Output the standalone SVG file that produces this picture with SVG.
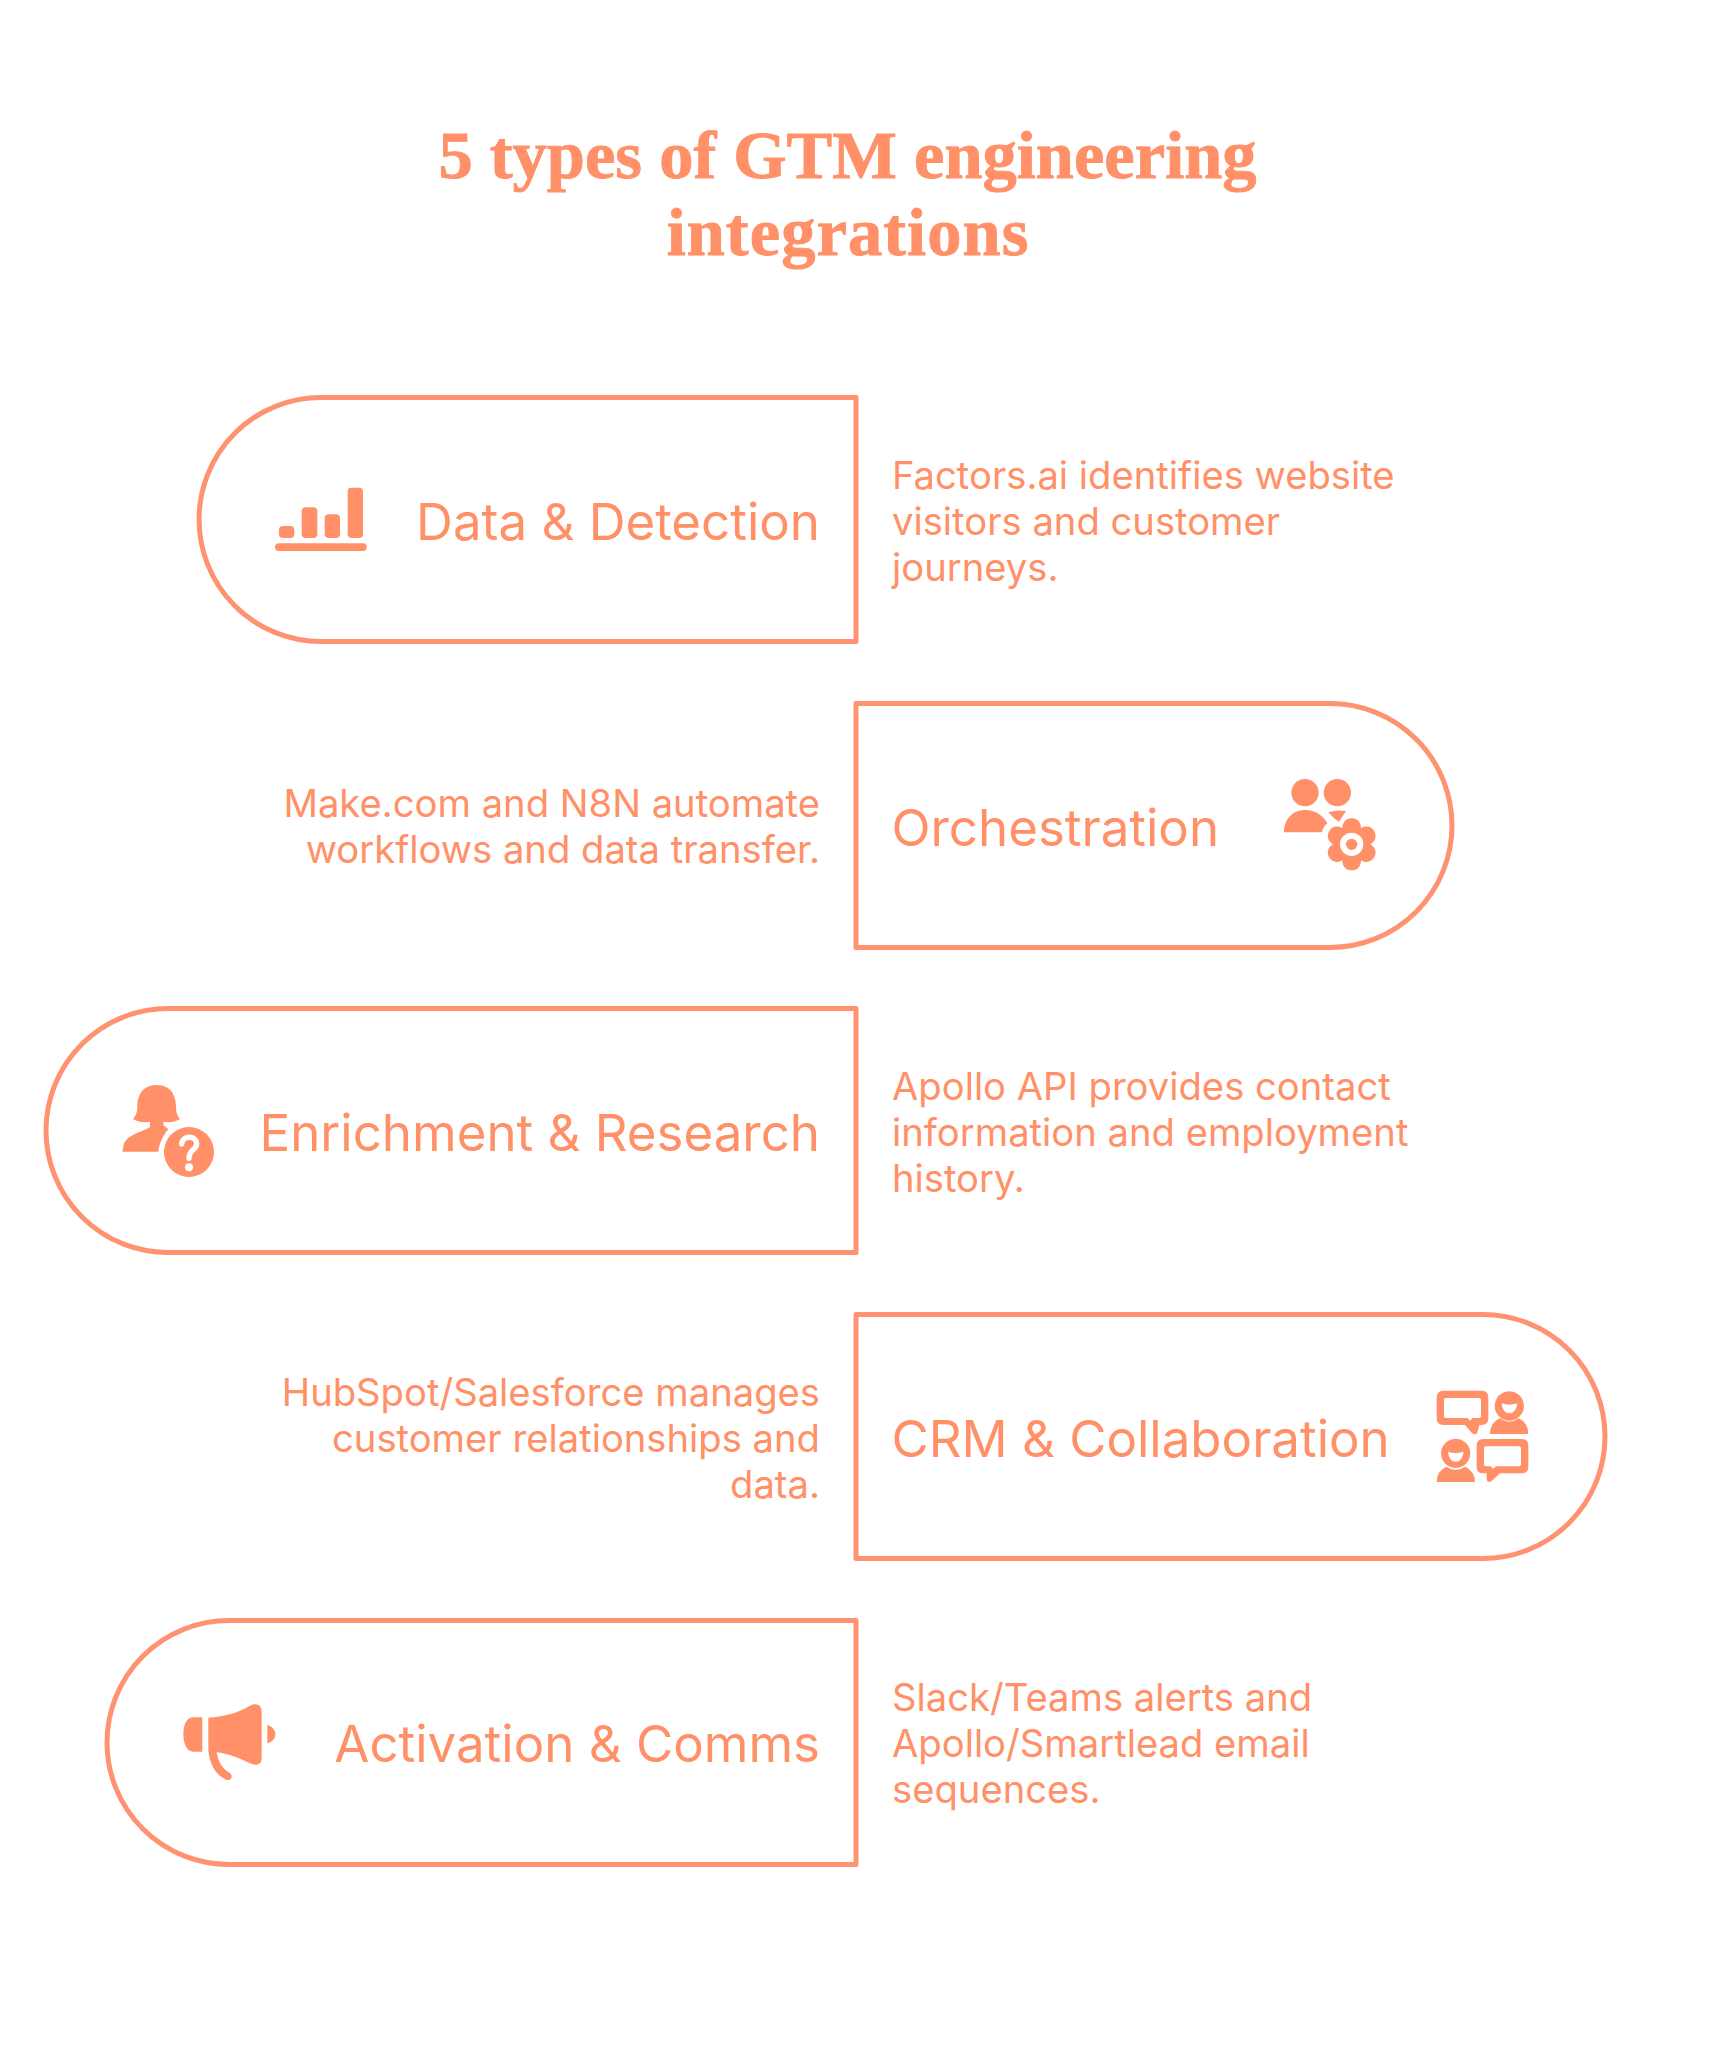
<svg xmlns="http://www.w3.org/2000/svg" width="1712" height="2048" viewBox="0 0 1712 2048">
<style>
.box{fill:none;stroke:#FF9270;stroke-width:5;stroke-linejoin:round}
.ic{fill:#FF9068}
.t{font-family:"Liberation Serif",serif;font-weight:700;font-size:68.5px;fill:#FF9068;stroke:#FF9068;stroke-width:.9;text-anchor:middle}
.l{font-family:Inter,sans-serif;font-size:51px;fill:#FF9068}
.d{font-family:Inter,sans-serif;font-size:38.2px;fill:#FF9068}
.e{text-anchor:end}
</style>
<defs><path id="petal" d="M310 255C300 218 318 205 335 205C352 205 370 218 360 255Z"/></defs>
<rect width="1712" height="2048" fill="#fff"/>
<g id="title"><text class="t" x="847.5" y="178">5 types of GTM engineering</text><text class="t" x="848" y="255" letter-spacing="1.05">integrations</text></g>
<g id="node-1">
<path class="box" d="M856 397.500H321A122 122 0 0 0 321 641.500H856Z"/>
<g class="ic"><rect x="279" y="526" width="15.3" height="12" rx="4"/><rect x="301.7" y="507.3" width="15.6" height="30.7" rx="4"/><rect x="324.7" y="514.3" width="15.3" height="23.7" rx="4"/><rect x="347.7" y="487.7" width="15.3" height="50.3" rx="4"/><rect x="275" y="543.3" width="91.7" height="7.7" rx="3.8"/></g>
<text class="l e" x="820" y="540">Data &amp; Detection</text>
<text class="d" x="892" y="489">Factors.ai identifies website</text><text class="d" x="892" y="535">visitors and customer</text><text class="d" x="892" y="581">journeys.</text>
</g>
<g id="node-2">
<path class="box" d="M856 703.500H1330A122 122 0 0 1 1330 947.500H856Z"/>
<g class="ic" transform="translate(1240 750) scale(.3333)"><circle cx="195" cy="128" r="41"/><circle cx="292" cy="128" r="41"/><path d="M132 247C132 205 160 180 197 180C225 180 248 195 262 220C252 228 248 236 246 247Z"/><path d="M265 187Q292 178 318 183L297 215Q280 205 265 187Z"/>
<use href="#petal"/><use href="#petal" transform="rotate(60 335 283)"/><use href="#petal" transform="rotate(120 335 283)"/><use href="#petal" transform="rotate(180 335 283)"/><use href="#petal" transform="rotate(240 335 283)"/><use href="#petal" transform="rotate(300 335 283)"/>
<circle cx="335" cy="283" r="50"/><circle cx="335" cy="283" r="35" fill="#fff"/><circle cx="335" cy="283" r="17"/></g>
<text class="l" x="891.500" y="846">Orchestration</text>
<text class="d e" x="820" y="817">Make.com and N8N automate</text><text class="d e" x="820" y="863">workflows and data transfer.</text>
</g>
<g id="node-3">
<path class="box" d="M856 1008.500H168A122 122 0 0 0 168 1252.500H856Z"/>
<g class="ic" transform="translate(100 1060) scale(.3333)"><path d="M170 75C125 75 112 110 112 140C112 160 105 170 99 177C115 187 135 188 150 185L150 200C140 212 85 220 72 250L67 275L175 275C178 250 190 225 205 208L190 195L190 185C205 188 225 187 240 177C234 170 228 160 228 140C228 110 215 75 170 75Z"/><circle cx="267" cy="276" r="75"/><path d="M245 252C247 225 290 225 290 252C290 270 267 268 267 295" fill="none" stroke="#fff" stroke-width="16" stroke-linecap="round"/><circle cx="267" cy="322" r="12" fill="#fff"/></g>
<text class="l e" x="820" y="1151">Enrichment &amp; Research</text>
<text class="d" x="892" y="1100">Apollo API provides contact</text><text class="d" x="892" y="1146">information and employment</text><text class="d" x="892" y="1192">history.</text>
</g>
<g id="node-4">
<path class="box" d="M856 1314.500H1483A122 122 0 0 1 1483 1558.500H856Z"/>
<g class="ic" transform="translate(1420 1370) scale(.3333)"><path fill-rule="evenodd" d="M70 62H185Q205 62 205 82V145Q205 165 185 165H178L172 188Q165 197 155 188L135 165H70Q50 165 50 145V82Q50 62 70 62ZM78 84Q72 84 72 90V138Q72 144 78 144H142L150 152L158 144H177Q183 144 183 138V90Q183 84 177 84Z"/><path fill-rule="evenodd" d="M190 207H305Q325 207 325 227V290Q325 310 305 310H240L215 333Q205 340 200 330V310H190Q170 310 170 290V227Q170 207 190 207ZM198 229Q192 229 192 235V283Q192 289 198 289H212L220 297L228 289H297Q303 289 303 283V235Q303 229 297 229Z"/><path fill-rule="evenodd" d="M268 64A44 44 0 1 0 268.01 64ZM245 100Q268 108 292 100Q288 130 268 130Q248 130 245 100Z"/><path d="M240 145Q268 165 296 145Q325 158 325 192H210Q210 158 240 145Z"/><path fill-rule="evenodd" d="M107 206A44 44 0 1 0 107.010 206ZM84 245Q107 253 131 245Q127 275 107 275Q87 275 84 245Z"/><path d="M79 290Q107 310 135 290Q165 303 165 336H50Q50 303 79 290Z"/></g>
<text class="l" x="891.500" y="1457">CRM &amp; Collaboration</text>
<text class="d e" x="820" y="1406">HubSpot/Salesforce manages</text><text class="d e" x="820" y="1452">customer relationships and</text><text class="d e" x="820" y="1498">data.</text>
</g>
<g id="node-5">
<path class="box" d="M856 1620.500H229A122 122 0 0 0 229 1864.500H856Z"/>
<g class="ic" transform="translate(170 1690) scale(.3333)"><path d="M97 82L70 82C50 82 40 105 40 133C40 160 50 185 70 185L97 185Z"/><path d="M115 83C160 80 200 70 240 47C260 37 275 45 275 65L275 205C275 225 260 228 240 220C210 205 170 190 140 187C145 215 155 235 180 250C190 257 185 272 170 270C135 255 118 220 115 180Z"/><path d="M292 105C310 110 316 125 316 133C316 145 310 155 292 160Z"/></g>
<text class="l e" x="820" y="1762">Activation &amp; Comms</text>
<text class="d" x="892" y="1711">Slack/Teams alerts and</text><text class="d" x="892" y="1757">Apollo/Smartlead email</text><text class="d" x="892" y="1803">sequences.</text>
</g>
</svg>
